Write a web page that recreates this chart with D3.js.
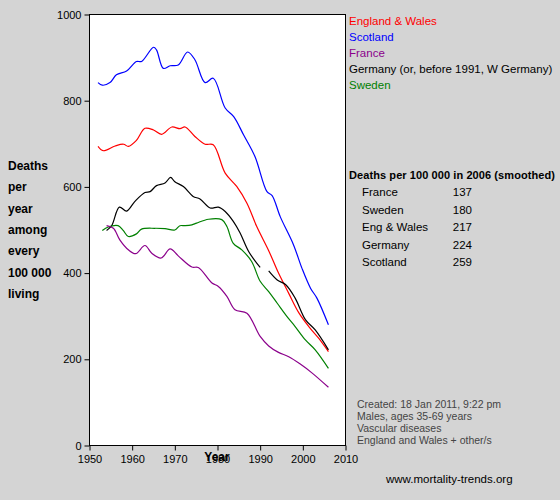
<!DOCTYPE html><html><head><meta charset="utf-8"><script src="https://cdn.jsdelivr.net/npm/d3@7"></script>
<style>body{margin:0;background:#d4d4d4}svg{font-family:"Liberation Sans",Arial,sans-serif}</style></head><body><svg id="c" width="560" height="500"></svg><script>
const xTicks=[1950,1960,1970,1980,1990,2000,2010];
const yTicks=[0,200,400,600,800,1000];
const scotland=[[1952,842],[1953,836],[1954.8,842],[1956.3,860],[1958.7,869],[1961,891],[1962.2,891],[1965,924],[1965.7,918],[1967.3,875],[1968.9,881],[1970.8,883],[1973,913],[1974.7,895],[1977.1,842],[1979,852],[1981.8,783],[1983.8,763],[1986.1,721],[1988.8,670],[1991.6,589],[1992.8,580],[1994.7,531],[1997.8,466],[1999.8,411],[2001.8,365],[2003.3,342],[2006,280]];
const england=[[1952,694],[1953.2,684],[1956,695],[1958,699],[1959.1,694],[1961,708],[1963,736],[1965,732],[1966.9,722],[1969.3,739],[1971.2,735],[1972.4,739],[1974.7,717],[1977.1,699],[1979,698],[1981.8,632],[1984.5,601],[1986.9,562],[1989.2,508],[1992,452],[1994.3,400],[1996.7,353],[1999,309],[2001.4,276],[2003.7,249],[2006,218]];
const germany1=[[1954,499],[1955.2,510],[1957,553],[1958.7,544],[1960.6,566],[1963,587],[1964.2,589],[1965.7,603],[1967.7,609],[1969,622],[1970,612],[1972,601],[1974.3,578],[1975.9,572],[1978.3,551],[1980.2,553],[1981.8,543],[1983.7,520],[1985.3,493],[1987.3,450],[1990,413]];
const germany2=[[1992,405],[1994,384],[1996,373],[1998.2,342],[2000.6,292],[2002.9,268],[2006,222]];
const sweden=[[1953,499],[1954.4,507],[1956.7,510],[1957.9,499],[1959.1,485],[1961,491],[1962.2,502],[1965.3,504],[1967.7,503],[1970,500],[1971.2,510],[1972.4,510],[1974,512],[1975.1,516],[1977.9,525],[1981,524],[1982.2,508],[1983.7,469],[1985.7,454],[1988,427],[1990,381],[1992,357],[1994,330],[1996.3,299],[1998.2,276],[2000.6,245],[2002.9,222],[2006,179]];
const france=[[1954,510],[1955.6,504],[1957.1,477],[1959.1,454],[1960.8,445],[1963,464],[1964.6,446],[1966.8,435],[1968.9,456],[1970.8,440],[1974,414],[1975.5,413],[1978.7,377],[1980.2,369],[1982.2,346],[1984.1,315],[1986.9,307],[1990,253],[1992,231],[1994.3,216],[1996.7,206],[1999.4,189],[2002.2,168],[2006,135]];
const legendNames=["England & Wales","Scotland","France","Germany (or, before 1991, W Germany)","Sweden"];
const legendColors=["#ff0000","#0000ff","#8b008b","#000000","#008000"];
const tableNames=["France","Sweden","Eng & Wales","Germany","Scotland"];
const tableValues=[137,180,217,224,259];
const notes=["Created: 18 Jan 2011, 9:22 pm","Males, ages 35-69 years","Vascular diseases","England and Wales + other/s"];

const svg=d3.select("#c");
const x=d3.scaleLinear().domain([1950,2010]).range([89.5,345.5]);
const y=d3.scaleLinear().domain([0,1000]).range([445.5,14.5]);
svg.append("rect").attr("x",89.5).attr("y",14.5).attr("width",256).attr("height",431).attr("fill","#fff").attr("stroke","#000");
const xa=svg.append("g").attr("transform","translate(0,445.5)").call(d3.axisBottom(x).tickValues(xTicks).tickFormat(d3.format("d")).tickSize(5).tickPadding(5).tickSizeOuter(0));
const ya=svg.append("g").attr("transform","translate(89.5,0)").call(d3.axisLeft(y).tickValues(yTicks).tickFormat(d3.format("d")).tickSize(5).tickSizeOuter(0));
[xa,ya].forEach(a=>{a.select(".domain").remove();a.selectAll("text").attr("font-size",11).attr("fill","#000").attr("font-family","Liberation Sans, Arial");});
const line=d3.line().x(d=>x(d[0])).y(d=>y(d[1])).curve(d3.curveCatmullRom);
[[scotland,"#0000ff"],[england,"#ff0000"],[germany1,"#000"],[germany2,"#000"],[sweden,"#008000"],[france,"#8b008b"]].forEach(([d,c])=>svg.append("path").datum(d).attr("d",line).attr("fill","none").attr("stroke",c).attr("stroke-width",1.2));
legendNames.forEach((n,i)=>svg.append("text").attr("x",349).attr("y",25+i*16).attr("font-size",11.5).attr("fill",legendColors[i]).text(n));
["Deaths","per","year","among","every","100 000","living"].forEach((t,i)=>svg.append("text").attr("x",8).attr("y",170+i*21.3).attr("font-size",12).attr("font-weight","bold").text(t));
svg.append("text").attr("x",217).attr("y",456).attr("text-anchor","middle").attr("font-size",12).attr("font-weight","bold").text("Year").attr("dy","0.45em");
svg.append("text").attr("x",349).attr("y",179).attr("font-size",11).attr("font-weight","bold").attr("textLength",206).text("Deaths per 100 000 in 2006 (smoothed)");
tableNames.forEach((n,i)=>{svg.append("text").attr("x",362).attr("y",196+i*17.5).attr("font-size",11.5).text(n);
svg.append("text").attr("x",472).attr("y",196+i*17.5).attr("text-anchor","end").attr("font-size",11.5).text(tableValues[i]);});
notes.forEach((n,i)=>svg.append("text").attr("x",357).attr("y",408+i*12).attr("font-size",10.5).attr("fill","#444").text(n));
svg.append("text").attr("x",386).attr("y",483).attr("font-size",11.5).text("www.mortality-trends.org");
</script></body></html>
